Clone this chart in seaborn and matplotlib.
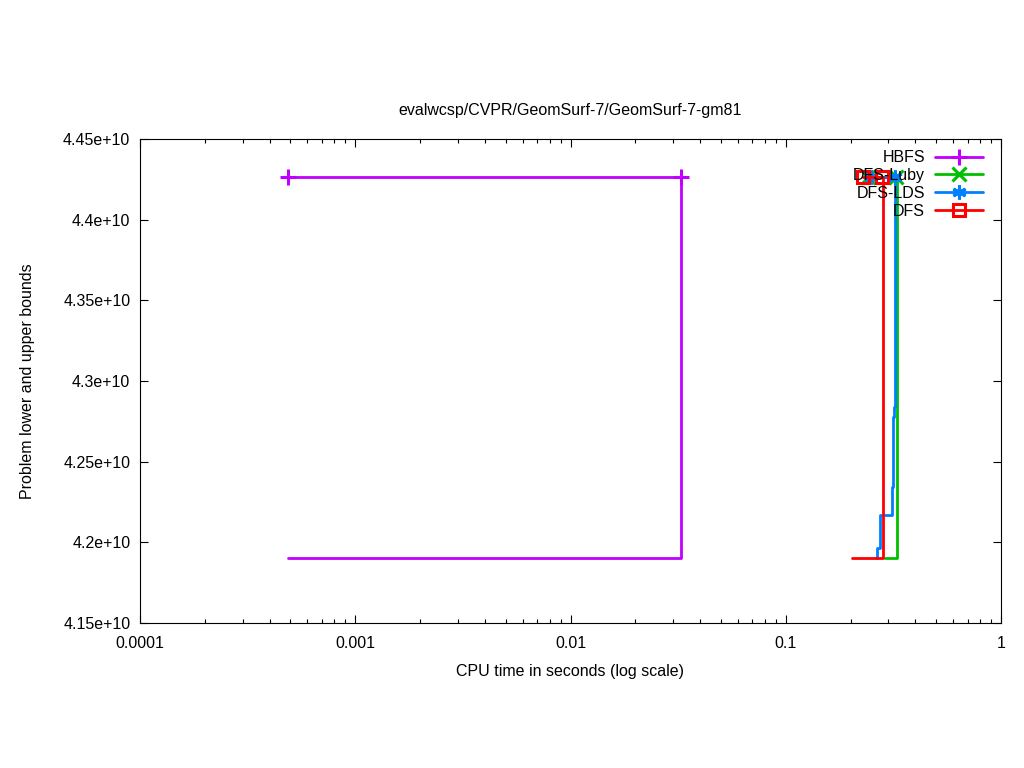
import matplotlib
matplotlib.use("Agg")
import matplotlib.pyplot as plt
import matplotlib.ticker as mticker
import pandas as pd
import seaborn as sns

TITLE = "evalwcsp/CVPR/GeomSurf-7/GeomSurf-7-gm81"

# series names, drawing order (later ones on top)
names = ["HBFS", "DFS-Luby", "DFS-LDS", "DFS"]
colors = {"HBFS": "#c000ff", "DFS-Luby": "#00c000", "DFS-LDS": "#0080ff", "DFS": "#ff0000"}
markers = {"HBFS": "+", "DFS-Luby": "x", "DFS-LDS": (6, 2, 0), "DFS": "s"}
msizes = {"HBFS": 12, "DFS-Luby": 10, "DFS-LDS": 10, "DFS": 8}

# lower bound (step) curves
lb_time = {
    "HBFS": [0.000487, 0.0326],
    "DFS-Luby": [0.2886, 0.329],
    "DFS-LDS": [0.262, 0.2647, 0.2734, 0.3116, 0.3153, 0.3187, 0.3222],
    "DFS": [0.203, 0.2825],
}
lb_value = {
    "HBFS": [4.1903e10, 4.4264e10],
    "DFS-Luby": [4.1903e10, 4.4264e10],
    "DFS-LDS": [4.1903e10, 4.1965e10, 4.2170e10, 4.2343e10, 4.2777e10, 4.2839e10, 4.4264e10],
    "DFS": [4.1903e10, 4.4264e10],
}

# upper bound curves (with point markers)
ub_time = {
    "HBFS": [0.000487, 0.0326],
    "DFS-Luby": [0.24, 0.3255],
    "DFS-LDS": [0.2497, 0.3222],
    "DFS": [0.229, 0.2795],
}
ub_value = {
    "HBFS": [4.4264e10, 4.4264e10],
    "DFS-Luby": [4.4264e10, 4.4264e10],
    "DFS-LDS": [4.4264e10, 4.4264e10],
    "DFS": [4.4264e10, 4.4264e10],
}

y_ticks = [4.15e10, 4.2e10, 4.25e10, 4.3e10, 4.35e10, 4.4e10, 4.45e10]
x_ticks = [0.0001, 0.001, 0.01, 0.1, 1]

sns.set_style("ticks")
plt.rcParams["font.family"] = ["Liberation Sans", "DejaVu Sans"]
plt.rcParams["font.size"] = 11.5
plt.rcParams["text.color"] = "black"
plt.rcParams["axes.labelcolor"] = "black"

fig = plt.figure(figsize=(10.24, 7.68), dpi=100)
ax = fig.add_axes([140 / 1024, 1 - 623 / 768, 861 / 1024, 484 / 768])

for name in names:
    lb = pd.DataFrame({"t": lb_time[name], "v": lb_value[name]})
    ub = pd.DataFrame({"t": ub_time[name], "v": ub_value[name]})
    sns.lineplot(data=lb, x="t", y="v", ax=ax, color=colors[name], lw=2,
                 drawstyle="steps-post", sort=False, estimator=None)
    sns.lineplot(data=ub, x="t", y="v", ax=ax, color=colors[name], lw=2,
                 marker=markers[name], markersize=msizes[name], mew=2.2,
                 mfc="none" if name == "DFS" else colors[name],
                 mec=colors[name], sort=False, estimator=None, label=name)

ax.set_xscale("log")
ax.set_xlim(x_ticks[0], x_ticks[-1])
ax.set_ylim(y_ticks[0], y_ticks[-1])
ax.set_xticks(x_ticks)
ax.set_yticks(y_ticks)
ax.xaxis.set_major_formatter(mticker.FuncFormatter(lambda v, p: f"{v:g}"))
ax.yaxis.set_major_formatter(mticker.FuncFormatter(lambda v, p: f"{v / 1e10:g}e+10"))
ax.xaxis.set_minor_locator(mticker.LogLocator(base=10, subs=range(2, 10), numticks=20))
ax.xaxis.set_minor_formatter(mticker.NullFormatter())
ax.tick_params(which="both", direction="in", top=True, right=True, colors="black",
               labelcolor="black", labelsize=11.5, width=0.8)
ax.tick_params(which="major", length=5.5)
ax.tick_params(which="minor", length=3)
ax.tick_params(axis="x", which="major", pad=9)
ax.tick_params(axis="y", which="major", pad=7)
for s in ax.spines.values():
    s.set_linewidth(0.8)
    s.set_color("black")

ax.set_title(TITLE, fontsize=11.5, pad=17)
ax.set_xlabel("CPU time in seconds (log scale)", fontsize=11.5, labelpad=10)
ax.set_ylabel("Problem lower and upper bounds", fontsize=11.5, labelpad=20)

leg = ax.legend(loc="upper right", bbox_to_anchor=(0.9925, 1.0), frameon=False,
                markerfirst=False, handlelength=3.05, labelspacing=0.18,
                handletextpad=0.6, fontsize=11.5, borderaxespad=0.3)

fig.savefig("out.png", dpi=100)
